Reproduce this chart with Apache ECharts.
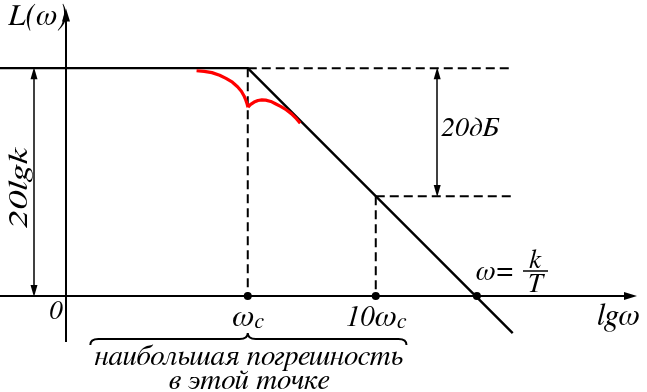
<!DOCTYPE html>
<html><head><meta charset="utf-8">
<script src="https://cdn.jsdelivr.net/npm/echarts@6/dist/echarts.min.js"></script>
<style>html,body{margin:0;padding:0;background:#fff}#c{width:647px;height:392px}</style>
</head><body><div id="c"></div>
<script>
// x: lg ω in decades measured from the L(ω) axis; y: L(ω) in dB
const level20lgK = 35.6;            // 20 lg k
const level20below = 15.6;          // 20 lg k - 20 dB
const markX = [1.42, 2.42, 3.21];   // ωc, 10ωc, ω = k/T
const tickLabels = ['{w|ω}{s|c}', '{n|10}{w|ω}{s|c}', ''];
const asymX = [-0.52, 1.42, 3.49];
const asymY = [35.6, 35.6, -5.8];
const redLeftX = [1.02, 1.08, 1.14, 1.20, 1.25, 1.30, 1.34, 1.37, 1.39, 1.405, 1.415, 1.422];
const redLeftY = [35.2, 35.1, 34.9, 34.5, 34.0, 33.4, 32.7, 32.0, 31.3, 30.6, 30.0, 29.5];
const redRightX = [1.422, 1.44, 1.47, 1.50, 1.53, 1.56, 1.60, 1.64, 1.68, 1.72, 1.76, 1.80, 1.83];
const redRightY = [29.5, 29.9, 30.3, 30.55, 30.65, 30.6, 30.4, 30.0, 29.6, 29.1, 28.5, 27.7, 27.0];
const dashEndX = 3.49;
const arrow20X = 2.90;   // x of the "20 dB" double arrow
const arrowKX = -0.25;   // x of the "20 lg k" double arrow
const braceX = [0.19, 2.66]; // brace under the axis, tip at ωc
const braceY = -6.7;

const X_MIN = -0.5156, X_MAX = 4.539, Y_MIN = -15, Y_MAX = 46.25;
const FONT = 'FreeSerif';
const zip = (xs, ys) => xs.map((x, i) => [x, ys[i]]);
const tri = 'path://M0,0 L1,2 L-1,2 Z';
const AH = 0.8;

const chart = echarts.init(document.getElementById('c'), null, {renderer: 'canvas'});
const blk = '#000';
const dash = {color: blk, width: 2, type: [9, 5]};
const ts = (px, extra) => Object.assign({fontFamily: FONT, fontStyle: 'italic', fontSize: px, fill: blk}, extra || {});
const rs = (px) => ({fontFamily: FONT, fontStyle: 'italic', fontSize: px, color: blk, opacity: 1, textBorderWidth: 0, verticalAlign: 'bottom'});

chart.setOption({
  animation: false,
  grid: {left: 0, right: 0, top: 0, bottom: 0},
  xAxis: {type: 'value', min: X_MIN, max: X_MAX, show: false},
  yAxis: {type: 'value', min: Y_MIN, max: Y_MAX, show: false},
  series: [
    {type: 'lines', coordinateSystem: 'cartesian2d', silent: true,
     symbol: ['none', tri], symbolSize: [[8, 13], [8, 13]],
     lineStyle: {color: blk, width: 2, opacity: 1},
     data: [
       {coords: [[X_MIN, 0], [4.41, 0]]},
       {coords: [[0, -7.2], [0, 43.9]]}
     ]},
    {type: 'lines', coordinateSystem: 'cartesian2d', silent: true,
     symbol: [tri, tri], symbolSize: [[7, 12], [7, 12]],
     lineStyle: {color: blk, width: 1.5, opacity: 1},
     data: [
       {coords: [[arrow20X, level20lgK - AH], [arrow20X, level20below + AH]]},
       {coords: [[arrowKX, level20lgK - AH], [arrowKX, 0 + AH]]}
     ]},
    {type: 'line', symbol: 'none', lineStyle: dash, data: [[markX[0], level20lgK], [markX[0], 0]]},
    {type: 'line', symbol: 'none', lineStyle: dash, data: [[markX[1], level20below], [markX[1], 0]]},
    {type: 'line', symbol: 'none', lineStyle: dash, data: [[markX[0], level20lgK], [dashEndX, level20lgK]]},
    {type: 'line', symbol: 'none', lineStyle: dash, data: [[markX[1], level20below], [dashEndX, level20below]]},
    {type: 'line', symbol: 'none', lineStyle: {color: blk, width: 2.4}, data: zip(asymX, asymY)},
    {type: 'line', symbol: 'none', smooth: false, lineStyle: {color: '#f00', width: 3.2, join: 'round'}, data: zip(redLeftX, redLeftY)},
    {type: 'line', symbol: 'none', smooth: false, lineStyle: {color: '#f00', width: 3.2, join: 'round'}, data: zip(redRightX, redRightY)},
    {type: 'scatter', symbolSize: 8, itemStyle: {color: blk, opacity: 1},
     emphasis: {disabled: true},
     data: markX.map((x, i) => ({value: [x, 0], label: {formatter: tickLabels[i]}})),
     label: {show: true, position: 'bottom', distance: 0, color: blk, opacity: 1, textBorderWidth: 0,
       rich: {w: rs(32), n: rs(29), s: rs(22)}}},
    {type: 'custom', silent: true, data: [[braceX[0], braceX[1], markX[0], braceY]],
     renderItem: function (params, api) {
       const a = api.coord([api.value(0), api.value(3)]);
       const b = api.coord([api.value(1), api.value(3)]);
       const t = api.coord([api.value(2), api.value(3)]);
       const y = a[1], h = 6, r = 8;
       const d = `M${a[0]},${y + h} Q${a[0]},${y} ${a[0] + r},${y} L${t[0] - r},${y} Q${t[0]},${y} ${t[0]},${y - h} ` +
                 `Q${t[0]},${y} ${t[0] + r},${y} L${b[0] - r},${y} Q${b[0]},${y} ${b[0]},${y + h}`;
       return {type: 'path', shape: {pathData: d}, style: {stroke: blk, fill: null, lineWidth: 2}};
     }}
  ],
  graphic: [
    {type: 'text', left: 8, top: 0, style: ts(31, {text: 'L(ω)'})},
    {type: 'text', x: 19, y: 188, rotation: Math.PI / 2, scaleX: 1.4,
     style: ts(27, {text: '20lgk', align: 'center', verticalAlign: 'middle'})},
    {type: 'text', x: 56, y: 311, style: ts(27, {text: '0', align: 'center', verticalAlign: 'middle'})},
    {type: 'text', left: 597, top: 300, style: ts(31, {text: 'lgω'})},
    {type: 'text', left: 441, top: 114, style: ts(28, {text: '20дБ'})},
    {type: 'text', x: 494, y: 271, style: ts(29, {text: 'ω=', align: 'center', verticalAlign: 'middle'})},
    {type: 'text', x: 535, y: 260, style: ts(27, {text: 'k', align: 'center', verticalAlign: 'middle'})},
    {type: 'line', shape: {x1: 523, y1: 271, x2: 548, y2: 271}, style: {stroke: blk, lineWidth: 1.5}},
    {type: 'text', x: 535, y: 284, style: ts(27, {text: 'T', align: 'center', verticalAlign: 'middle'})},
    {type: 'text', x: 249, y: 356, style: ts(29, {text: 'наибольшая погрешность', align: 'center', verticalAlign: 'middle'})},
    {type: 'text', x: 249, y: 380, style: ts(29, {text: 'в этой точке', align: 'center', verticalAlign: 'middle'})}
  ]
});
</script></body></html>
